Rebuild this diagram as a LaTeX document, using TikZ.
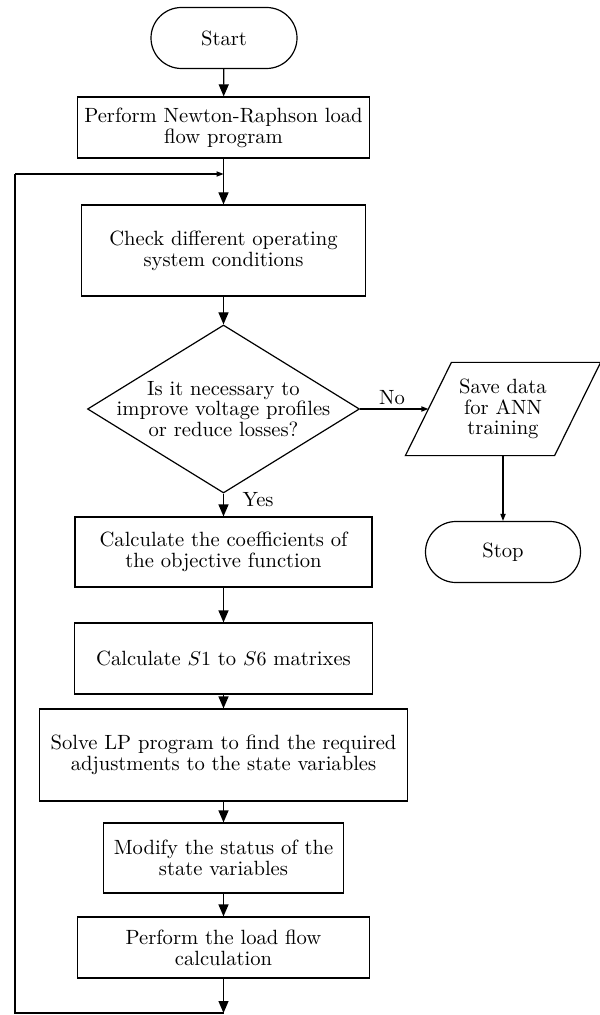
\documentclass[tikz,border=0pt]{standalone}
\usetikzlibrary{arrows.meta,shapes.geometric}
\begin{document}
\begin{tikzpicture}[x=0.5pt,y=-0.5pt, line width=0.6pt,
  txt/.style={inner sep=0pt, align=center, font=\fontsize{10.3}{10.4}\selectfont},
  box/.style={txt, draw, rectangle},
  term/.style={txt, draw, rounded corners=15.25pt},
  big/.style={-{Triangle[length=6pt,width=5pt]}},
  small/.style={-{Triangle[length=3.5pt,width=2.6pt]}}]
\useasboundingbox (0,0) rectangle (599,1015);
\fill[white] (0,0) rectangle (599,1015);

\node[term, minimum width=73pt, minimum height=30.5pt] (start) at (224,38) {Start};
\node[box, minimum width=146pt, minimum height=30.5pt] (nr) at (223.5,127.5) {Perform Newton-Raphson load\\flow program};
\node[box, minimum width=142pt, minimum height=45.5pt] (check) at (223.5,250.5) {Check different operating\\system conditions};
\node[draw, diamond, inner sep=0pt, minimum width=136pt, minimum height=84pt] (dec) at (223.5,409) {};
\node[txt] (dectext) at (223.5,409) {Is it necessary to\\improve voltage profiles\\or reduce losses?};
\node[txt, minimum width=74pt, minimum height=46pt] (save) at (503,409) {Save data\\for ANN\\training};
\draw ([xshift=11.5pt]save.north west) -- ([xshift=11.5pt]save.north east)
  -- ([xshift=-11.5pt]save.south east) -- ([xshift=-11.5pt]save.south west) -- cycle;
\node[term, minimum width=77.5pt, minimum height=30.5pt] (stop) at (503,552) {Stop};
\node[box, minimum width=148.5pt, minimum height=35pt] (coef) at (223.5,552) {Calculate the coefficients of\\the objective function};
\node[box, minimum width=149pt, minimum height=35.5pt] (s1) at (223.5,658.5) {Calculate $S1$ to $S6$ matrixes};
\node[box, minimum width=184pt, minimum height=46pt] (lp) at (223.5,755) {Solve LP program to find the required\\adjustments to the state variables};
\node[box, minimum width=120pt, minimum height=35pt] (mod) at (223.5,858) {Modify the status of the\\state variables};
\node[box, minimum width=146pt, minimum height=30.5pt] (plf) at (223.5,947.5) {Perform the load flow\\calculation};

\node[txt] (no) at (392,398) {No};
\node[txt] (yes) at (258,500) {Yes};

\coordinate (join) at (223.5,174);
\coordinate (bot) at (223.5,1013);
\coordinate (botleft) at (15,1013);
\coordinate (topleft) at (15,174);

\draw[big] (start) -- (nr);
\draw[big] (nr) -- (check);
\draw[big] (check) -- (dec);
\draw[big] (dec) -- (coef);
\draw[big] (coef) -- (s1);
\draw[big] (s1) -- (lp);
\draw[big] (lp) -- (mod);
\draw[big] (mod) -- (plf);
\draw[big] (plf) -- (bot);
\draw (bot) -- (botleft) -- (topleft);
\draw[small] (topleft) -- (join);
\draw[small] (dec.east) -- (save.west);
\draw[small] (save.south) -- (stop.north);
\end{tikzpicture}
\end{document}
